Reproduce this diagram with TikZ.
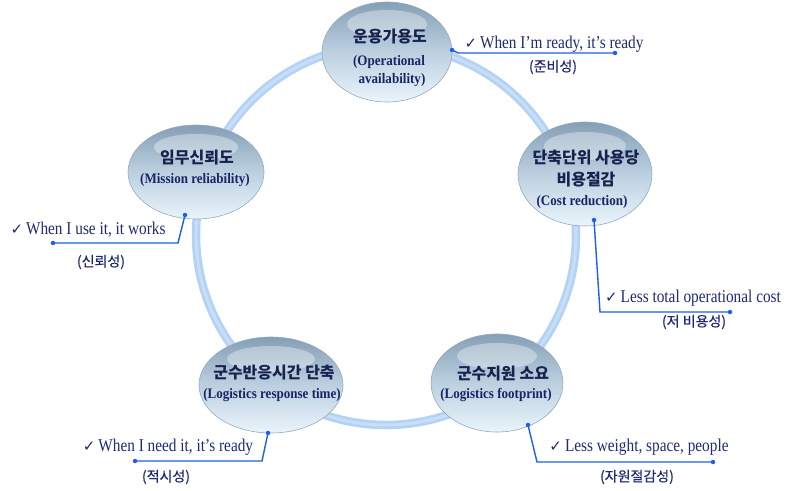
\documentclass[tikz,border=0pt]{standalone}
\usepackage{fontspec}
\setmainfont{Liberation Serif}
\newfontfamily\en{Liberation Serif}[FakeStretch=0.9]
\newfontfamily\ennote{Liberation Serif}[FakeStretch=0.85]
\newfontfamily\kr{Noto Sans CJK KR}
\newfontfamily\krm{Noto Sans CJK KR}[FakeBold=0.6]
\newfontfamily\sym{DejaVu Sans}
\usetikzlibrary{shapes.geometric}
\definecolor{ring}{HTML}{B4D3F4}
\definecolor{ringhi}{HTML}{C6DEF7}
\definecolor{navy}{HTML}{1E2A78}
\definecolor{dark}{HTML}{17224F}
\definecolor{lineblue}{HTML}{1D5FE6}
\definecolor{droptop}{HTML}{859FB6}
\definecolor{dropmid}{HTML}{BCD0E0}
\definecolor{dropbot}{HTML}{EAF4FB}
\definecolor{dropedge}{HTML}{93AABF}
\tikzset{
  drop/.style={ellipse, draw=dropedge, line width=0.6pt, top color=droptop, bottom color=dropbot, middle color=dropmid, inner sep=0pt},
  ktitle/.style={font=\kr\bfseries\fontsize{16}{18}\selectfont, text=dark, inner sep=0pt},
  etitle/.style={font=\en\bfseries\fontsize{14.5}{16}\selectfont, text=navy!85!black, inner sep=0pt},
  note/.style={font=\ennote\fontsize{18}{20}\selectfont, text=navy, inner sep=0pt},
  knote/.style={font=\krm\fontsize{14}{16}\selectfont, text=navy, inner sep=0pt},
  callout/.style={lineblue, line width=1.4pt},
  dot/.style={circle, fill=lineblue, inner sep=0pt, minimum size=4.5pt},
  hilite/.style={white, opacity=0.35}
}
\newcommand{\chk}{{\sym\bfseries\fontsize{15}{15}\selectfont ✓}\,}
\begin{document}
\begin{tikzpicture}[x=1pt,y=-1pt]
\useasboundingbox (0,0) rectangle (791,490);
% ring
\draw[ring, line width=8.5pt] (386,235) circle[radius=190];
\draw[ringhi, line width=3pt] (386,235) circle[radius=190];
% drops
\node[drop, minimum width=130pt, minimum height=100pt] (e1) at (387,52) {};
\node[drop, minimum width=136pt, minimum height=94pt] (e2) at (196,172) {};
\node[drop, minimum width=134pt, minimum height=104pt] (e3) at (585,174) {};
\node[drop, minimum width=144pt, minimum height=96pt] (e4) at (271,385) {};
\node[drop, minimum width=132pt, minimum height=98pt] (e5) at (497,383) {};
% highlights
\fill[hilite] (387,24) ellipse[x radius=40, y radius=14];
\fill[hilite] (196,147) ellipse[x radius=42, y radius=13];
\fill[hilite] (585,146) ellipse[x radius=41, y radius=14];
\fill[hilite] (271,359) ellipse[x radius=44, y radius=13];
\fill[hilite] (497,356) ellipse[x radius=40, y radius=13];
% titles
\node[ktitle] (k1) at (390,37) {운용가용도};
\node[etitle] (t1a) at (389,62) {(Operational};
\node[etitle] (t1b) at (392,80) {availability)};
\node[ktitle] (k2) at (197,158) {임무신뢰도};
\node[etitle] (t2) at (195,180) {(Mission reliability)};
\node[ktitle] (k3a) at (586,158) {단축단위 사용당};
\node[ktitle] (k3b) at (586,180) {비용절감};
\node[etitle] (t3) at (582,202) {(Cost reduction)};
\node[ktitle] (k4) at (274,373) {군수반응시간 단축};
\node[etitle] (t4) at (272,395) {(Logistics response time)};
\node[ktitle] (k5) at (503,373) {군수지원 소요};
\node[etitle] (t5) at (496,395) {(Logistics footprint)};
% callout dots
\node[dot] (d1a) at (452,50) {};
\coordinate (c1) at (458,53);
\node[dot] (d1b) at (615,53) {};
\node[dot] (d2a) at (185,215) {};
\coordinate (c2) at (178,243);
\node[dot] (d2b) at (53,243) {};
\node[dot] (d3a) at (594,220) {};
\coordinate (c3) at (600,312);
\node[dot] (d3b) at (730,312) {};
\node[dot] (d4a) at (268,433) {};
\coordinate (c4) at (262,461);
\node[dot] (d4b) at (135,461) {};
\node[dot] (d5a) at (528,425) {};
\coordinate (c5) at (537,462);
\node[dot] (d5b) at (713,462) {};
\draw[callout] (d1a.center) -- (c1) -- (d1b.center);
\draw[callout] (d2a.center) -- (c2) -- (d2b.center);
\draw[callout] (d3a.center) -- (c3) -- (d3b.center);
\draw[callout] (d4a.center) -- (c4) -- (d4b.center);
\draw[callout] (d5a.center) -- (c5) -- (d5b.center);
% notes
\node[note] (n1) at (554,44) {\chk When I’m ready, it’s ready};
\node[knote] (m1) at (553,67) {(준비성)};
\node[note] (n2) at (88,230) {\chk When I use it, it works};
\node[knote] (m2) at (101,262) {(신뢰성)};
\node[note] (n3) at (693,298) {\chk Less total operational cost};
\node[knote] (m3) at (694,322) {(저 비용성)};
\node[note] (n4) at (168,447) {\chk When I need it, it’s ready};
\node[knote] (m4) at (166,477) {(적시성)};
\node[note] (n5) at (639,447) {\chk Less weight, space, people};
\node[knote] (m5) at (637,477) {(자원절감성)};
\end{tikzpicture}
\end{document}
